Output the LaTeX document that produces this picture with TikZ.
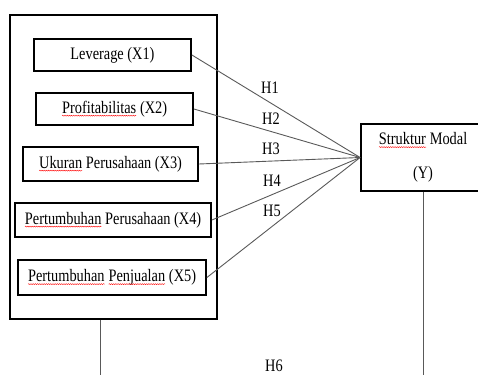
\documentclass[tikz,border=0pt]{standalone}
\usepackage{fontspec}
\setmainfont{Liberation Serif}[FakeStretch=0.82]
\usetikzlibrary{decorations.pathmorphing}
\newcommand{\spellmark}[1]{\tikz[baseline=(w.base)]{\node[inner sep=0pt,outer sep=0pt,minimum width=0pt,minimum height=0pt,draw=none] (w) {#1};
  \draw[red,line width=0.4pt,decorate,decoration={snake,amplitude=0.5pt,segment length=2.2pt}] ([yshift=-2.4pt]w.base west) -- ([yshift=-2.4pt]w.base east);}}

\begin{document}
\begin{tikzpicture}[x=1pt,y=-1pt,
  varbox/.style={draw,line width=1.8pt,inner sep=0pt,font=\fontsize{17.5}{19}\selectfont},
  conn/.style={black!65,line width=0.9pt},
  hlabel/.style={font=\fontsize{17.5}{19}\selectfont,inner sep=0pt}]
\clip (0,0) rectangle (478,374);
\node[varbox,minimum width=207pt,minimum height=304pt] (frame) at (113.5,167) {};
\node[varbox,minimum width=157pt,minimum height=32pt] (x1) at (112.5,55) {Leverage (X1)};
\node[varbox,minimum width=157pt,minimum height=32pt] (x2) at (114.5,109) {\spellmark{Profitabilitas} (X2)};
\node[varbox,minimum width=175pt,minimum height=34pt] (x3) at (110.5,164) {\spellmark{Ukuran} Perusahaan (X3)};
\node[varbox,minimum width=196pt,minimum height=34pt] (x4) at (113,220) {\spellmark{Pertumbuhan} Perusahaan (X4)};
\node[varbox,minimum width=188pt,minimum height=35pt] (x5) at (112,277.5) {\spellmark{Pertumbuhan} \spellmark{Penjualan} (X5)};
\node[varbox,minimum width=124pt,minimum height=67pt,align=center] (y) at (423,157.5) {\spellmark{Struktur} Modal\\[15pt](Y)};
\draw[conn] (x1.east) -- (y.west);
\draw[conn] (x2.east) -- (y.west);
\draw[conn] (x3.east) -- (y.west);
\draw[conn] (x4.east) -- (y.west);
\draw[conn] (x5.east) -- (y.west);
\node[hlabel] (h1) at (270,88) {H1};
\node[hlabel] (h2) at (271,119) {H2};
\node[hlabel] (h3) at (271,149) {H3};
\node[hlabel] (h4) at (272,181) {H4};
\node[hlabel] (h5) at (272,211) {H5};
\coordinate (h6a) at (100,380);
\draw[conn] (frame.south -| h6a) -- (h6a);
\draw[conn] (y.south) -- (y.south |- h6a);
\node[hlabel] (h6) at (274,366) {H6};
\end{tikzpicture}
\end{document}
